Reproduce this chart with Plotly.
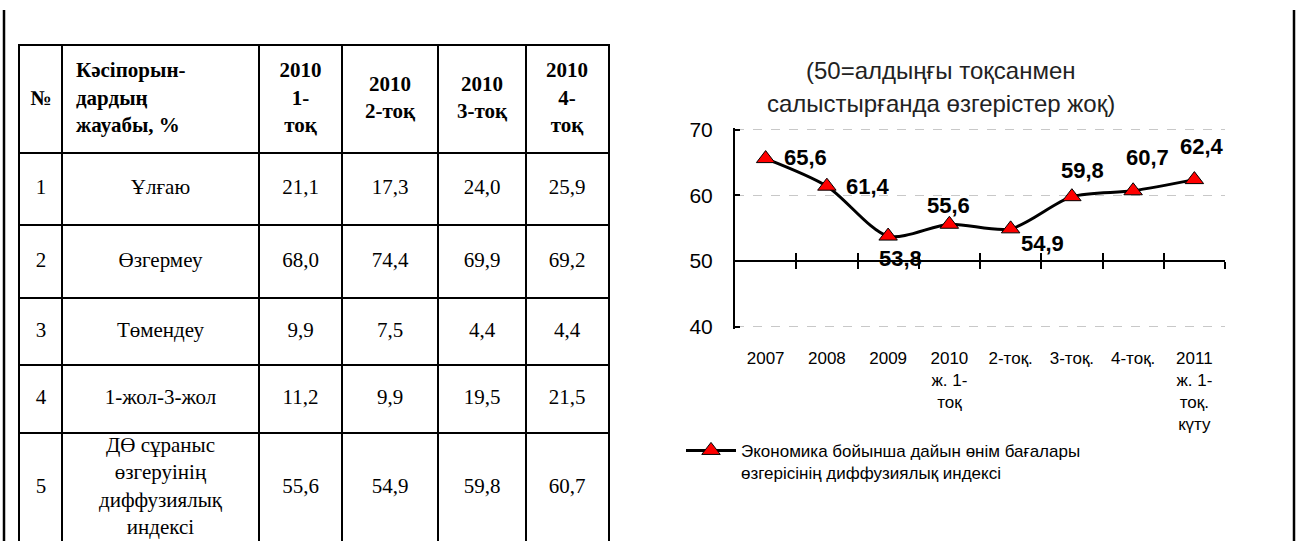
import plotly.graph_objects as go

# --- chart data ---
periods = ['2007', '2008', '2009', '2010<br>ж. 1-<br>тоқ', '2-тоқ.', '3-тоқ.',
           '4-тоқ.', '2011<br>ж. 1-<br>тоқ.<br>күту']
index_values = [65.6, 61.4, 53.8, 55.6, 54.9, 59.8, 60.7, 62.4]
series_name = 'Экономика бойынша дайын өнім бағалары<br>өзгерісінің диффузиялық индексі'
title_lines = ['(50=алдыңғы тоқсанмен', 'салыстырғанда өзгерістер жоқ)']

# --- table data ---
table_header = ['№', 'Кәсіпорын-<br>дардың<br>жауабы, %', '2010<br>1-<br>тоқ',
                '2010<br>2-тоқ', '2010<br>3-тоқ', '2010<br>4-<br>тоқ']
row_no = ['1', '2', '3', '4', '5']
row_names = ['Ұлғаю', 'Өзгермеу', 'Төмендеу', '1-жол-3-жол',
             'ДӨ сұраныс<br>өзгеруінің<br>диффузиялық<br>индексі']
q1_2010 = [21.1, 68.0, 9.9, 11.2, 55.6]
q2_2010 = [17.3, 74.4, 7.5, 9.9, 54.9]
q3_2010 = [24.0, 69.9, 4.4, 19.5, 59.8]
q4_2010 = [25.9, 69.2, 4.4, 21.5, 60.7]

W, H = 1298, 550
SANS = 'Liberation Sans, Arial, sans-serif'
SERIF = 'Liberation Serif, Times New Roman, serif'


def px_x(p):
    return p / W


def px_y(p):
    return 1 - p / H


def fmt(v):
    return f'{v:.1f}'.replace('.', ',')


fig = go.Figure()

# ---------------- table (drawn on its own axes) ----------------
col_w = [42, 197, 83, 96, 88, 82]
row_h = [111, 75, 75, 70, 70, 114]
table_left, table_top = 20, 37

col_edges = [0]
for w in col_w:
    col_edges.append(col_edges[-1] + w)
row_edges = [0]
for h in row_h:
    row_edges.append(row_edges[-1] + h)

columns = [row_no, row_names] + [[fmt(v) for v in c] for c in (q1_2010, q2_2010, q3_2010, q4_2010)]

for c in range(len(col_w)):
    texts = ['<b>' + table_header[c] + '</b>'] + columns[c]
    ys = [(row_edges[r] + row_edges[r + 1]) / 2 for r in range(len(texts))]
    if c == 1:
        xs = [col_edges[1] + 14] + [(col_edges[1] + col_edges[2]) / 2] * len(columns[c])
        pos = ['middle right'] + ['middle center'] * len(columns[c])
    else:
        xs = [(col_edges[c] + col_edges[c + 1]) / 2] * len(texts)
        pos = 'middle center'
    fig.add_trace(go.Scatter(
        x=xs, y=ys, text=texts, mode='text', textposition=pos,
        textfont=dict(family=SERIF, size=21, color='black'),
        xaxis='x4', yaxis='y4', showlegend=False, hoverinfo='skip'))

# ---------------- line chart ----------------
n = len(periods)
fig.add_trace(go.Scatter(
    x=list(range(n)), y=index_values, mode='lines+markers', name=series_name,
    line=dict(color='black', width=3, shape='spline', smoothing=0.8),
    marker=dict(symbol='triangle-up', size=16, color='#FF0000',
                line=dict(color='black', width=1)),
    xaxis='x', yaxis='y', hoverinfo='skip'))

# overlay axes to draw the x axis line at 50 with crossing ticks
for ax in ('x2', 'x3'):
    fig.add_trace(go.Scatter(x=[None], y=[None], xaxis=ax, yaxis='y',
                             showlegend=False, hoverinfo='skip'))

label_dx = [40, 41, 12, -1, 32, 11, 14, 8]
label_dy = [1, 0, -22, 19, -15, 26, 33, 33]
annotations = []
for i, v in enumerate(index_values):
    annotations.append(dict(
        x=i, y=v, xref='x', yref='y', text='<b>' + fmt(v) + '</b>', showarrow=False,
        xshift=label_dx[i], yshift=label_dy[i],
        font=dict(family=SANS, size=22, color='black')))

for line, ypx in zip(title_lines, [63, 97]):
    annotations.append(dict(
        x=px_x(941), y=px_y(ypx), xref='paper', yref='paper', text=line,
        showarrow=False, xanchor='center', yanchor='middle',
        font=dict(family=SANS, size=24, color='#222')))

# pad the range a little so the dashed lines at 40 and 70 are kept
pad = 0.3
px_per_unit = 6.8
y_range = [40 - pad, 70 + pad]
y_dom = [px_y(328 + pad * px_per_unit), px_y(124 - pad * px_per_unit)]
cross_pos = y_dom[0] + (50 - y_range[0]) / (y_range[1] - y_range[0]) * (y_dom[1] - y_dom[0])
x_dom = [px_x(735), px_x(1225)]
x_range = [-0.5, n - 0.5]
boundaries = [i + 0.5 for i in range(n)]

axis_common = dict(domain=x_dom, range=x_range, overlaying='x', anchor='free',
                   position=cross_pos, tickvals=boundaries, showline=True,
                   linecolor='black', linewidth=2, tickcolor='black', tickwidth=1.5,
                   ticklen=7, showticklabels=False, showgrid=False, zeroline=False)

fig.update_layout(
    width=W, height=H,
    margin=dict(l=0, r=0, t=0, b=0),
    paper_bgcolor='white', plot_bgcolor='white',
    font=dict(family=SANS, color='black'),
    xaxis=dict(domain=x_dom, range=x_range, tickvals=list(range(n)), ticktext=periods,
               showline=False, showgrid=False, zeroline=False, ticks='',
               tickfont=dict(size=17, color='black'), ticklabelstandoff=17, anchor='y'),
    xaxis2=dict(ticks='outside', **axis_common),
    xaxis3=dict(ticks='inside', **axis_common),
    yaxis=dict(domain=y_dom, range=y_range, tickvals=[40, 50, 60, 70], anchor='x',
               showline=True, linecolor='black', linewidth=2,
               ticks='inside', ticklen=5, tickwidth=2, tickcolor='black',
               showgrid=True, gridcolor='#c8c8c8', griddash='dash', gridwidth=1,
               zeroline=False, tickfont=dict(size=21, color='black'),
               ticklabelstandoff=16),
    xaxis4=dict(domain=[px_x(table_left), px_x(table_left + col_edges[-1])],
                range=[0, col_edges[-1]], side='top', anchor='y4',
                tickvals=col_edges[1:-1], showgrid=True, gridcolor='black', gridwidth=2,
                showline=True, linecolor='black', linewidth=2,
                ticks='', showticklabels=False, zeroline=False),
    yaxis4=dict(domain=[0, px_y(table_top)], range=[H - table_top, 0], anchor='x4',
                tickvals=row_edges[1:-1], showgrid=True, gridcolor='black', gridwidth=2,
                showline=True, mirror=True, linecolor='black', linewidth=2,
                ticks='', showticklabels=False, zeroline=False),
    showlegend=True,
    legend=dict(x=px_x(681), y=px_y(438), xanchor='left', yanchor='top',
                font=dict(family=SANS, size=17, color='black'),
                itemwidth=50, valign='top', bgcolor='rgba(0,0,0,0)'),
    annotations=annotations,
    shapes=[
        dict(type='line', xref='paper', yref='paper', x0=px_x(4), x1=px_x(4), y0=0, y1=1,
             line=dict(color='black', width=2.5)),
        dict(type='line', xref='paper', yref='paper', x0=px_x(1294), x1=px_x(1294), y0=0, y1=1,
             line=dict(color='black', width=2.5)),
    ],
)

fig.write_html('out.html', config={'displayModeBar': False},
               post_script="document.body.style.margin = '0';")
